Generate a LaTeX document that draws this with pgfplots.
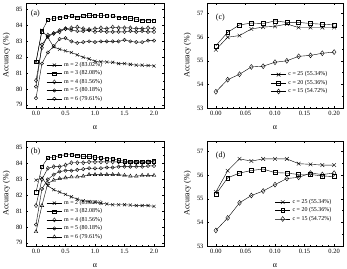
\documentclass[border=0pt]{standalone}
\usepackage{pgfplots}
\pgfplotsset{compat=1.18}
\usepackage{fontspec}
\setmainfont{Liberation Serif}

\pgfplotsset{
  panel/.style={
    scale only axis,
    anchor=south west,
    tick align=inside,
    xtick pos=both, ytick pos=both,
    major tick length=2.2bp, minor tick length=1.2bp,
    tick style={black, line width=0.4pt},
    axis line style={line width=0.5pt},
    /pgf/number format/assume math mode=true,
    tick label style={font=\fontsize{6.5}{7}\selectfont},
    label style={font=\fontsize{8}{9}\selectfont},
    ylabel={Accuracy (\%)},
    xlabel={α},
    xlabel style={yshift=-3bp},
    ylabel style={yshift=-1bp},
    cycle list={{black, solid, line width=0.4pt, mark options={solid, fill=white}}},
    legend cell align=left,
    legend style={draw=none, fill=none, font=\fontsize{6}{6.5}\selectfont,
      row sep=-1.2pt, inner sep=1pt},
    legend image code/.code={
      \draw[mark repeat=2,mark phase=2] plot coordinates {(0cm,0cm) (0.27cm,0cm) (0.54cm,0cm)};},
  },
  mpanel/.style={panel, width=138bp, height=105bp,
    xmin=-0.17, xmax=2.17, ymin=78.8, ymax=85.42,
    xtick={0,0.5,1,1.5,2}, minor x tick num=4,
    ytick={79,80,81,82,83,84,85}, minor y tick num=1,
    xticklabel style={/pgf/number format/.cd, fixed, fixed zerofill, precision=1},
    legend style={at={(rel axis cs:0.14,0.03)}, anchor=south west},
  },
  cpanel/.style={panel, width=136bp, height=105bp,
    xmin=-0.015, xmax=0.215, ymin=53, ymax=57.45,
    xtick={0,0.05,0.1,0.15,0.2}, minor x tick num=4,
    ytick={53,54,55,56,57}, minor y tick num=1,
    xticklabel style={/pgf/number format/.cd, fixed, fixed zerofill, precision=2},
  },
  % black open-marker series
  ser/.style={black, solid, line width=0.4pt, mark=#1, mark options={solid, fill=white}},
}

% panel (a)
\pgfplotstableread{
a    m2     m3     m4     m5     m6
0.0  81.72  81.70  80.54  80.15  79.42
0.1  83.70  83.65  82.60  82.80  81.60
0.2  83.25  84.35  83.40  83.30  82.30
0.3  82.65  84.45  83.50  83.50  82.70
0.4  82.50  84.50  83.60  83.70  83.15
0.5  82.40  84.55  83.80  83.80  83.20
0.6  82.30  84.60  83.85  83.70  83.00
0.7  82.15  84.50  83.90  83.65  82.90
0.8  82.00  84.60  83.80  83.65  82.95
0.9  81.90  84.65  83.75  83.70  83.00
1.0  81.75  84.60  83.80  83.60  82.95
1.1  81.72  84.65  83.85  83.65  83.00
1.2  81.70  84.60  83.80  83.60  83.00
1.3  81.68  84.60  83.90  83.60  83.00
1.4  81.60  84.50  83.85  83.60  83.00
1.5  81.60  84.50  83.85  83.60  83.10
1.6  81.55  84.45  83.85  83.65  83.00
1.7  81.50  84.40  83.80  83.60  82.95
1.8  81.50  84.30  83.80  83.65  82.95
1.9  81.48  84.30  83.85  83.60  83.05
2.0  81.45  84.30  83.80  83.60  83.05
}\tabA

% panel (b)
\pgfplotstableread{
a    m2     m3     m4     m5     m6
0.0  82.95  82.20  81.35  80.15  79.70
0.1  83.10  83.80  83.00  82.40  81.35
0.2  82.60  84.35  83.70  83.00  82.75
0.3  82.35  84.40  83.80  83.30  82.95
0.4  82.20  84.50  83.80  83.50  83.05
0.5  82.05  84.55  83.90  83.55  83.10
0.6  81.90  84.55  84.05  83.55  83.15
0.7  81.75  84.50  84.05  83.60  83.15
0.8  81.65  84.45  84.05  83.65  83.20
0.9  81.60  84.45  84.10  83.70  83.30
1.0  81.55  84.40  84.10  83.70  83.30
1.1  81.50  84.35  84.10  83.70  83.30
1.2  81.45  84.30  84.10  83.75  83.30
1.3  81.40  84.30  84.10  83.75  83.30
1.4  81.40  84.20  84.10  83.80  83.30
1.5  81.40  84.15  84.05  83.80  83.25
1.6  81.38  84.10  84.05  83.80  83.20
1.7  81.35  84.10  84.05  83.80  83.20
1.8  81.35  84.10  84.05  83.80  83.25
1.9  81.35  84.10  84.10  83.85  83.25
2.0  81.30  84.15  84.10  83.85  83.25
}\tabB

% panel (c)
\pgfplotstableread{
a     c25    c20    c15
0.00  55.47  55.64  53.69
0.02  56.00  56.21  54.20
0.04  56.07  56.52  54.43
0.06  56.35  56.60  54.74
0.08  56.43  56.58  54.77
0.10  56.46  56.69  54.94
0.12  56.56  56.63  55.00
0.14  56.41  56.63  55.19
0.16  56.41  56.58  55.23
0.18  56.41  56.55  55.32
0.20  56.41  56.52  55.37
}\tabC

% panel (d)
\pgfplotstableread{
a     c25    c20    c15
0.00  55.29  55.19  53.66
0.02  56.19  55.89  54.19
0.04  56.69  56.09  54.83
0.06  56.60  56.20  55.14
0.08  56.69  56.26  55.33
0.10  56.69  56.11  55.60
0.12  56.69  56.09  55.86
0.14  56.49  56.03  55.91
0.16  56.46  56.03  56.09
0.18  56.43  55.97  56.03
0.20  56.43  55.94  56.09
}\tabD

\begin{document}
\begin{tikzpicture}
\useasboundingbox (0,0) rectangle (347bp,269bp);

\begin{axis}[mpanel, at={(26bp,161bp)}]
  \addplot[ser=x, mark size=2.2pt] table[x=a,y=m2] {\tabA};
  \addlegendentry{m = 2 (83.02\%)}
  \addplot[ser=square, mark size=1.7pt] table[x=a,y=m3] {\tabA};
  \addlegendentry{m = 3 (82.08\%)}
  \addplot[ser=diamond, mark size=2.1pt] table[x=a,y=m4] {\tabA};
  \addlegendentry{m = 4 (81.56\%)}
  \addplot[ser=o, mark size=1.7pt] table[x=a,y=m5] {\tabA};
  \addlegendentry{m = 5 (80.18\%)}
  \addplot[ser=o, mark size=1.7pt] table[x=a,y=m6] {\tabA};
  \addlegendentry{m = 6 (79.61\%)}
  \node[anchor=west, font=\fontsize{8}{9}\selectfont] at (rel axis cs:0.01,0.9) {(a)};
\end{axis}

\begin{axis}[mpanel, at={(26bp,23bp)}]
  \addplot[ser=x, mark size=2.2pt] table[x=a,y=m2] {\tabB};
  \addlegendentry{m = 2 (83.02\%)}
  \addplot[ser=square, mark size=1.7pt] table[x=a,y=m3] {\tabB};
  \addlegendentry{m = 3 (82.08\%)}
  \addplot[ser=diamond, mark size=2.1pt] table[x=a,y=m4] {\tabB};
  \addlegendentry{m = 4 (81.56\%)}
  \addplot[ser=o, mark size=1.7pt] table[x=a,y=m5] {\tabB};
  \addlegendentry{m = 5 (80.18\%)}
  \addplot[ser=triangle, mark size=2.1pt] table[x=a,y=m6] {\tabB};
  \addlegendentry{m = 6 (79.61\%)}
  \node[anchor=west, font=\fontsize{8}{9}\selectfont] at (rel axis cs:0.01,0.9) {(b)};
\end{axis}

\begin{axis}[cpanel, at={(207bp,161bp)},
  legend style={at={(rel axis cs:0.46,0.1)}, anchor=south west}]
  \addplot[ser=x, mark size=2.6pt] table[x=a,y=c25] {\tabC};
  \addlegendentry{c = 25 (55.34\%)}
  \addplot[ser=square, mark size=2pt] table[x=a,y=c20] {\tabC};
  \addlegendentry{c = 20 (55.36\%)}
  \addplot[ser=diamond, mark size=2.5pt] table[x=a,y=c15] {\tabC};
  \addlegendentry{c = 15 (54.72\%)}
  \node[anchor=west, font=\fontsize{8}{9}\selectfont] at (rel axis cs:0.04,0.86) {(c)};
\end{axis}

\begin{axis}[cpanel, at={(207bp,23bp)},
  legend style={at={(rel axis cs:0.49,0.2)}, anchor=south west}]
  \addplot[ser=x, mark size=2.6pt] table[x=a,y=c25] {\tabD};
  \addlegendentry{c = 25 (55.34\%)}
  \addplot[ser=square, mark size=2pt] table[x=a,y=c20] {\tabD};
  \addlegendentry{c = 20 (55.36\%)}
  \addplot[ser=diamond, mark size=2.5pt] table[x=a,y=c15] {\tabD};
  \addlegendentry{c = 15 (54.72\%)}
  \node[anchor=west, font=\fontsize{8}{9}\selectfont] at (rel axis cs:0.04,0.86) {(d)};
\end{axis}
\end{tikzpicture}
\end{document}
